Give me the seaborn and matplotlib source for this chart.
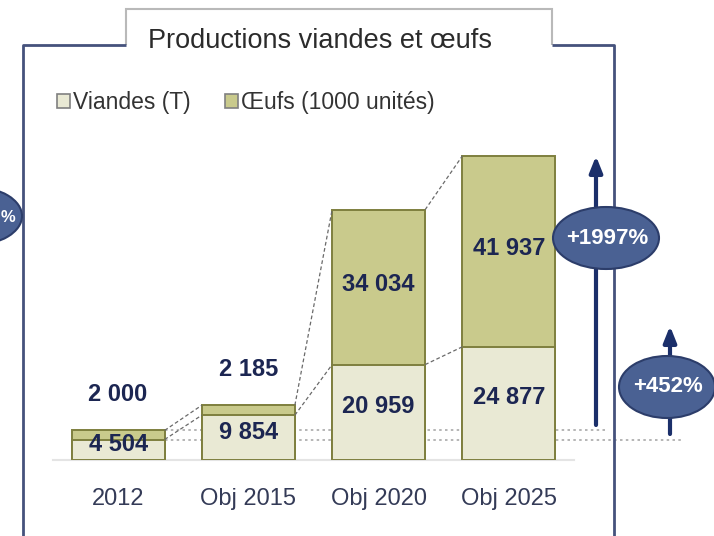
import matplotlib
matplotlib.use("Agg")
import matplotlib.pyplot as plt
import seaborn as sns
import pandas as pd
from matplotlib.patches import Ellipse, Patch, Polygon

# ---------------- data ----------------
categories = ["2012", "Obj 2015", "Obj 2020", "Obj 2025"]
viandes = [4504, 9854, 20959, 24877]
oeufs = [2000, 2185, 34034, 41937]
viandes_labels = ["4 504", "9 854", "20 959", "24 877"]
oeufs_labels = ["2 000", "2 185", "34 034", "41 937"]
series_names = ["Viandes (T)", "Œufs (1000 unités)"]
growth_labels = ["+1997%", "+452%"]
title = "Productions viandes et œufs"

# ---------------- style ----------------
sns.set_theme(style="white")
plt.rcParams["font.family"] = ["Liberation Sans", "DejaVu Sans"]

C_VIANDE = "#e9e9d4"
C_OEUF = "#c9ca8c"
C_EDGE = "#7e7f3e"
C_LABEL = "#1c2652"
C_TICK = "#343b57"
C_FRAME = "#45527c"
C_ELL = "#4a6193"
C_ELL_EDGE = "#2c3d6a"
C_ARROW = "#1b2f6a"

W, H = 714, 536
fig = plt.figure(figsize=(W / 100, H / 100), dpi=100)
fig.patch.set_facecolor("white")


def fx(px):
    return px / W


def fy(py):
    return 1 - py / H


# main axes (pixel box 53..574 x, 100..460 y)
ax = fig.add_axes([fx(53), fy(460), fx(574) - fx(53), fy(100) - fy(460)])
ax.patch.set_alpha(0)

df = pd.DataFrame({
    "cat": categories,
    "viandes": viandes,
    "oeufs": oeufs,
})
df["total"] = df["viandes"] + df["oeufs"]
BW = 0.714

sns.barplot(data=df, x="cat", y="total", color=C_OEUF, saturation=1,
            width=BW, edgecolor=C_EDGE, linewidth=1.4, ax=ax, zorder=2)
sns.barplot(data=df, x="cat", y="viandes", color=C_VIANDE, saturation=1,
            width=BW, edgecolor=C_EDGE, linewidth=1.4, ax=ax, zorder=3)

ax.set_xlim(-0.5, 3.5)
ax.set_ylim(0, 79100)
ax.set_xlabel("")
ax.set_ylabel("")
ax.set_yticks([])
for s in ["left", "right", "top"]:
    ax.spines[s].set_visible(False)
ax.spines["bottom"].set_color("#e4e4e4")
ax.spines["bottom"].set_linewidth(1.5)
ax.tick_params(axis="x", length=0, pad=20, labelsize=17, labelcolor=C_TICK)

tot = list(df["total"])

# dashed connectors between bars
for i in range(len(categories) - 1):
    for series in (tot, viandes):
        ax.plot([i + BW / 2, i + 1 - BW / 2], [series[i], series[i + 1]],
                ls=(0, (3, 2)), color="#6a6a6a", lw=0.9, zorder=4)

# dotted reference lines from the 2012 bar
ax.plot([BW / 2, 3.76], [tot[0], tot[0]], ls=(0, (1.5, 2)), color="#a9a9a9",
        lw=1.2, zorder=1, clip_on=False)
ax.plot([BW / 2, 4.33], [viandes[0], viandes[0]], ls=(0, (1.5, 2)),
        color="#a9a9a9", lw=1.2, zorder=1, clip_on=False)

# value labels
for i in range(len(categories)):
    ax.annotate(viandes_labels[i], (i, viandes[i] / 2), xytext=(0, 4),
                textcoords="offset points", ha="center", va="center",
                fontsize=17, fontweight="bold", color=C_LABEL, zorder=6)
    if oeufs[i] < 10000:
        ax.annotate(oeufs_labels[i], (i, tot[i]), xytext=(0, 26),
                    textcoords="offset points", ha="center", va="center",
                    fontsize=17, fontweight="bold", color=C_LABEL, zorder=6)
    else:
        ax.annotate(oeufs_labels[i], (i, viandes[i] + oeufs[i] / 2),
                    xytext=(0, 2), textcoords="offset points", ha="center",
                    va="center", fontsize=17, fontweight="bold",
                    color=C_LABEL, zorder=6)

# ---------------- overlay (frame, title, legend, badges) ----------------
ov = fig.add_axes([0, 0, 1, 1], zorder=5)
ov.set_xlim(0, W)
ov.set_ylim(H, 0)
ov.axis("off")
ov.patch.set_alpha(0)

# outer frame
ov.plot([23, 23, 126], [H + 5, 45, 45], color=C_FRAME, lw=2, solid_capstyle="butt")
ov.plot([552, 614, 614], [45, 45, H + 5], color=C_FRAME, lw=2, solid_capstyle="butt")
# title tab
ov.add_patch(Polygon([[126, 45], [126, 9], [552, 9], [552, 45]], closed=False,
                     facecolor="white", edgecolor="#b9b9b9", lw=1.5))
ov.text(320, 41, title, ha="center", va="center", fontsize=19.5, color="#2b2b2b")

# left, partially hidden badge
ov.add_patch(Ellipse((-26, 216), 96, 58, facecolor=C_ELL, edgecolor=C_ELL_EDGE,
                     lw=1.5, zorder=3, clip_on=True))
ov.text(1, 217, "%", ha="left", va="center", fontsize=12, fontweight="bold",
        color="white", zorder=4)

# arrows
ov.annotate("", xy=(596, 156), xytext=(596, 425),
            arrowprops=dict(arrowstyle="-|>,head_length=0.8,head_width=0.32",
                            color=C_ARROW, lw=3.0, shrinkA=0, shrinkB=0), zorder=2)
ov.annotate("", xy=(670, 326), xytext=(670, 434),
            arrowprops=dict(arrowstyle="-|>,head_length=0.8,head_width=0.32",
                            color=C_ARROW, lw=3.0, shrinkA=0, shrinkB=0), zorder=2)

# badges
badges = [((606, 238), 106, 62), ((667, 387), 96, 62)]
for (c, w, h), lab in zip(badges, growth_labels):
    ov.add_patch(Ellipse(c, w, h, facecolor=C_ELL, edgecolor=C_ELL_EDGE,
                         lw=1.5, zorder=3))
    ov.text(c[0] + 1, c[1], lab, ha="center", va="center", fontsize=16,
            fontweight="bold", color="white", zorder=4)

# legend
handles = [Patch(facecolor=C_VIANDE, edgecolor="#808080", lw=1.2),
           Patch(facecolor=C_OEUF, edgecolor="#808080", lw=1.2)]
fig.legend(handles, series_names, loc="center left",
           bbox_to_anchor=(fx(57), fy(103)), ncol=2, frameon=False,
           fontsize=16.5, handlelength=0.55, handleheight=0.55,
           handletextpad=0.15, columnspacing=1.5, labelcolor="#333333",
           borderaxespad=0, borderpad=0)

fig.savefig("out.png", dpi=100)
